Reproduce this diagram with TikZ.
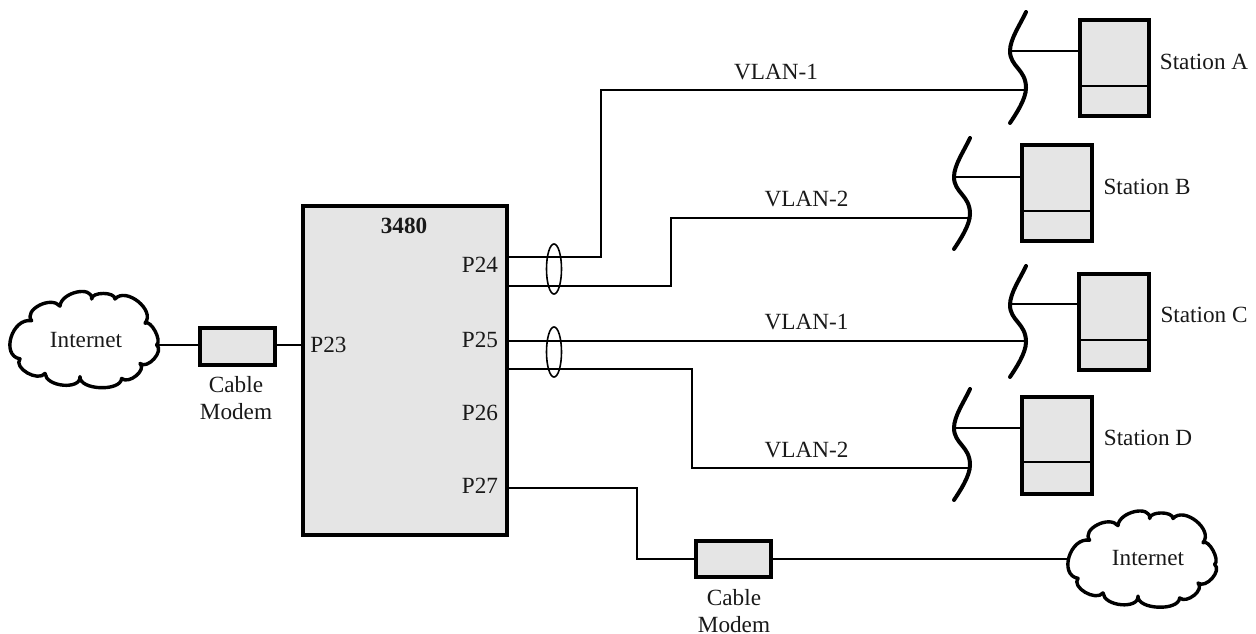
\documentclass[tikz,border=0pt]{standalone}
\usepackage{fontspec}
\usetikzlibrary{shapes.geometric}
\setmainfont{Liberation Serif}
\tikzset{
  x=1pt,y=-1pt,
  lbl/.style={inner sep=0pt,font=\fontsize{23.2}{26.5}\selectfont,align=center,text=black!90},
  thick box/.style={draw=black,line width=4.2pt,fill=black!10,inner sep=0pt,outer sep=0pt},
  wire/.style={draw=black,line width=2.5pt},
  wavy/.style={draw=black,line width=4pt,line cap=round},
  cloudline/.style={draw=black,line width=3.4pt,line join=round},
  ring/.style={draw=black,line width=1.6pt},
}
\newcommand{\cloudshape}[2]{%
  \begin{scope}[shift={(#1,#2)},x=0.3333pt,y=-0.31pt]
  \draw[cloudline]
    (470,190) .. controls (493,210) and (443,270) .. (420,250)
    .. controls (441,271) and (386,319) .. (365,298)
    .. controls (362,342) and (237,336) .. (240,292)
    .. controls (243,336) and (138,326) .. (135,282)
    .. controls (114,311) and (39,264) .. (60,235)
    .. controls (1,224) and (36,101) .. (95,112)
    .. controls (69,77) and (154,30) .. (180,65)
    .. controls (183,20) and (278,-3) .. (275,42)
    .. controls (275,18) and (345,18) .. (345,42)
    .. controls (378,1) and (468,79) .. (435,120)
    .. controls (452,107) and (487,177) .. (470,190) -- cycle;
  \end{scope}}
\newcommand{\wave}[2]{%
  \draw[wavy] (#1+16,#2-7) .. controls (#1+10,#2+6) and (#1,#2+20) .. (#1,#2+32)
   .. controls (#1,#2+48) and (#1+16,#2+50) .. (#1+16,#2+69)
   .. controls (#1+16,#2+80) and (#1+6,#2+95) .. (#1,#2+104);}
\begin{document}
\begin{tikzpicture}
\useasboundingbox (0,0) rectangle (1256,634);
% main box
\node[thick box,minimum width=204pt,minimum height=329pt,anchor=north west] (main) at (303,206) {};
\node[lbl,font=\fontsize{23.2}{26.5}\selectfont\bfseries] (title) at (404,226) {3480};
\node[lbl] (p23) at (328.5,345) {P23};
\node[lbl] (p24) at (480,265) {P24};
\node[lbl] (p25) at (480,340) {P25};
\node[lbl] (p26) at (480,413) {P26};
\node[lbl] (p27) at (480,486) {P27};
\coordinate (a24) at (507,257);
\coordinate (b24) at (507,286);
\coordinate (a25) at (507,341);
\coordinate (b25) at (507,369);
\coordinate (a27) at (507,488);
\coordinate (a23) at (305,345);
% modems
\node[thick box,minimum width=75pt,minimum height=37pt,anchor=north west] (m1) at (200,328) {};
\node[thick box,minimum width=75pt,minimum height=36pt,anchor=north west] (m2) at (696,541) {};
\node[lbl] (m1t) at (236,398) {Cable\\Modem};
\node[lbl] (m2t) at (734,611) {Cable\\Modem};
% clouds
\cloudshape{0}{286}
\cloudshape{1058}{505.5}
\node[lbl] (c1) at (86,340) {Internet};
\node[lbl] (c2) at (1148,558) {Internet};
\coordinate (c1e) at (156,345);
\coordinate (c2e) at (1069,559);
\draw[wire] (c1e) -- (m1.west |- c1e);
\draw[wire] (m1.east |- c1e) -- (a23);
\draw[wire] (a27) -| (637,559) -- (m2.west |- c2e);
\draw[wire] (m2.east |- c2e) -- (c2e);
% stations
\node[thick box,minimum width=69pt,minimum height=96pt,anchor=north west] (sa) at (1080,20) {};
\node[thick box,minimum width=70pt,minimum height=96pt,anchor=north west] (sb) at (1022,145) {};
\node[thick box,minimum width=70pt,minimum height=96pt,anchor=north west] (sc) at (1079,274) {};
\node[thick box,minimum width=70pt,minimum height=97pt,anchor=north west] (sd) at (1022,397) {};
\coordinate (da) at (1080,86); \coordinate (db) at (1022,211); \coordinate (dc) at (1079,340); \coordinate (dd) at (1022,462);
\draw[wire] (da) -- (da -| sa.east);
\draw[wire] (db) -- (db -| sb.east);
\draw[wire] (dc) -- (dc -| sc.east);
\draw[wire] (dd) -- (dd -| sd.east);
\wave{1010}{19}
\wave{954}{145}
\wave{1010}{273}
\wave{954}{396}
\coordinate (wa1) at (1010,51); \coordinate (wa2) at (1026,90);
\coordinate (wb1) at (954,177); \coordinate (wb2) at (970,218);
\coordinate (wc1) at (1010,304); \coordinate (wc2) at (1026,341);
\coordinate (wd1) at (954,428); \coordinate (wd2) at (970,468);
\draw[wire] (wa1) -- (wa1 -| sa.west);
\draw[wire] (wb1) -- (wb1 -| sb.west);
\draw[wire] (wc1) -- (wc1 -| sc.west);
\draw[wire] (wd1) -- (wd1 -| sd.west);
\draw[wire] (a24) -| (601,90) -- (wa2);
\draw[wire] (b24) -| (671,218) -- (wb2);
\draw[wire] (a25) -- (wc2);
\draw[wire] (b25) -| (692,468) -- (wd2);
% ellipses
\node[ring,ellipse,minimum width=15pt,minimum height=50pt,inner sep=0pt] (r1) at (554,269) {};
\node[ring,ellipse,minimum width=15pt,minimum height=50pt,inner sep=0pt] (r2) at (554,352) {};
% labels
\node[lbl] (v1) at (776,72) {VLAN-1};
\node[lbl] (v2) at (806.5,199) {VLAN-2};
\node[lbl] (v3) at (806.5,322) {VLAN-1};
\node[lbl] (v4) at (806.5,450) {VLAN-2};
\node[lbl] (ta) at (1204,62) {Station A};
\node[lbl] (tb) at (1147,187) {Station B};
\node[lbl] (tc) at (1204,315) {Station C};
\node[lbl] (td) at (1148,438) {Station D};
\end{tikzpicture}
\end{document}
